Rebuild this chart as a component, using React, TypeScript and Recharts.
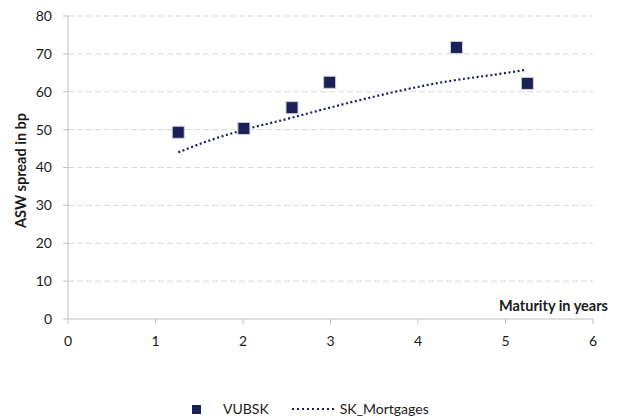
import React from 'react';
import {
  ComposedChart,
  Scatter,
  Line,
  XAxis,
  YAxis,
  CartesianGrid,
  Legend,
} from 'recharts';

// maturity (years) / ASW spread (bp)
const vubskX = [1.26, 2.01, 2.56, 2.99, 4.44, 5.25];
const vubskY = [49.3, 50.3, 55.8, 62.5, 71.7, 62.2];

// SK_Mortgages trend curve (dotted)
const trendX = [1.26, 1.6, 2.02, 2.5, 2.86, 3.3, 3.76, 4.3, 4.9, 5.24];
const trendY = [44.0, 47.0, 50.0, 52.8, 55.0, 57.6, 60.1, 62.6, 64.6, 65.8];

const xTicks = [0, 1, 2, 3, 4, 5, 6];
const yTicks = [0, 10, 20, 30, 40, 50, 60, 70, 80];

const NAVY = '#1b2157';
const FONT = 'Lato, "Open Sans", sans-serif';
const TEXT = '#1a1a1a';

const vubskData = vubskX.map((x, i) => ({ x, y: vubskY[i] }));
const trendData = trendX.map((x, i) => ({ x, y: trendY[i] }));

const SquareDot = (props: any) => {
  const { cx, cy } = props;
  if (cx == null || cy == null) return null;
  return (
    <rect x={cx - 6} y={cy - 6} width={12} height={12} fill={NAVY} stroke="#c9cbd8" strokeWidth={1} />
  );
};

const LegendContent = () => (
  <div
    style={{
      height: 66,
      width: 623,
      boxSizing: 'border-box',
      paddingTop: 54,
      paddingLeft: 192,
      display: 'flex',
      alignItems: 'center',
      fontFamily: FONT,
      fontSize: 14,
      color: TEXT,
      lineHeight: '16px',
    }}
  >
    <span style={{ width: 9, height: 9, background: NAVY, display: 'inline-block', marginRight: 22 }} />
    <span style={{ marginRight: 22 }}>VUBSK</span>
    <svg width={46} height={6} style={{ marginRight: 3 }}>
      <line x1={1} y1={3} x2={45} y2={3} stroke={NAVY} strokeWidth={2} strokeDasharray="2 3" />
    </svg>
    <span>SK_Mortgages</span>
  </div>
);

export default function App() {
  return (
    <div style={{ width: 623, height: 420, background: '#fff' }}>
      <style>{'body{margin:0}'}</style>
      <ComposedChart
        width={623}
        height={420}
        margin={{ top: 16, right: 30, left: 0, bottom: 5 }}
        style={{ fontFamily: FONT }}
      >
        <CartesianGrid
          vertical={false}
          stroke="#d9d9d9"
          strokeDasharray="6 3"
          horizontalValues={[10, 20, 30, 40, 50, 60, 70, 80]}
        />
        <XAxis
          type="number"
          dataKey="x"
          domain={[0, 6]}
          ticks={xTicks}
          interval={0}
          height={30}
          stroke="#bfbfbf"
          tickSize={5}
          tickMargin={12}
          tick={{ fill: TEXT, fontSize: 14, fontFamily: FONT }}
          allowDataOverflow
          label={(p: any) => {
            const vb = p.viewBox;
            return (
              <text
                x={vb.x + vb.width + 15}
                y={vb.y - 8}
                textAnchor="end"
                fontFamily={FONT}
                fontWeight="bold"
                fontSize={14.5}
                fill={TEXT}
              >
                Maturity in years
              </text>
            );
          }}
        />
        <YAxis
          type="number"
          dataKey="y"
          domain={[0, 80]}
          ticks={yTicks}
          interval={0}
          width={68}
          stroke="#bfbfbf"
          tickSize={5}
          tickMargin={11}
          tick={{ fill: TEXT, fontSize: 14, fontFamily: FONT }}
          label={(p: any) => {
            const vb = p.viewBox;
            const cx = 20;
            const cy = vb.y + vb.height / 2 + 3;
            return (
              <text
                x={cx}
                y={cy}
                transform={`rotate(-90 ${cx} ${cy})`}
                textAnchor="middle"
                dominantBaseline="central"
                fontFamily={FONT}
                fontWeight="bold"
                fontSize={14.5}
                fill={TEXT}
              >
                ASW spread in bp
              </text>
            );
          }}
        />
        <Legend verticalAlign="bottom" height={66} content={<LegendContent />} />
        <Line
          data={trendData}
          dataKey="y"
          name="SK_Mortgages"
          type="monotone"
          stroke={NAVY}
          strokeWidth={2.2}
          strokeDasharray="2 2.6"
          dot={false}
          activeDot={false}
          isAnimationActive={false}
        />
        <Scatter
          data={vubskData}
          dataKey="y"
          name="VUBSK"
          fill={NAVY}
          shape={<SquareDot />}
          isAnimationActive={false}
        />
      </ComposedChart>
    </div>
  );
}
